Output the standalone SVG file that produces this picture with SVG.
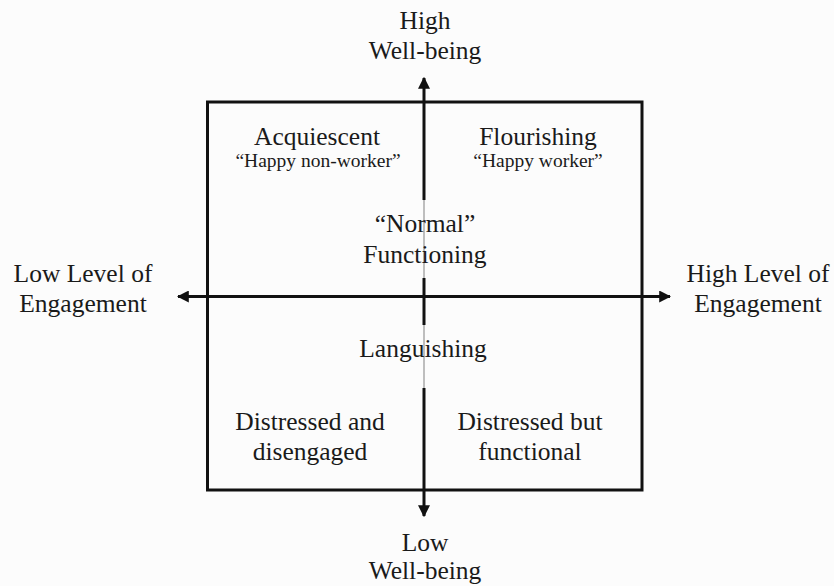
<svg xmlns="http://www.w3.org/2000/svg" width="834" height="586" viewBox="0 0 834 586">
<style>
text{font-family:"Liberation Serif","Times New Roman",serif;fill:#1a1a1a;text-anchor:middle}
.big{font-size:25.5px}
.small{font-size:19.5px}
.ax{stroke:#111;stroke-width:3;fill:none}
.thin{stroke:#aaa;stroke-width:1.5;fill:none}
</style>
<defs>
<marker id="ah" viewBox="0 0 10 10" refX="9" refY="5" markerWidth="4" markerHeight="4" markerUnits="strokeWidth" orient="auto">
<path d="M0,0 L10,5 L0,10 z" fill="#111"/>
</marker>
</defs>
<rect width="834" height="586" fill="#fcfcfc"/>
<g id="frame"><rect x="207.5" y="102" width="434.5" height="388" fill="none" stroke="#111" stroke-width="3"/></g>
<g id="connectors">
<line class="ax" x1="424" y1="200" x2="424" y2="78" marker-end="url(#ah)"/>
<line class="thin" x1="424" y1="200" x2="424" y2="278"/>
<line class="ax" x1="424" y1="278" x2="424" y2="325"/>
<line class="thin" x1="424" y1="325" x2="424" y2="388"/>
<line class="ax" x1="424" y1="388" x2="424" y2="516" marker-end="url(#ah)"/>
<line class="ax" x1="424" y1="296.5" x2="178" y2="296.5" marker-end="url(#ah)"/>
<line class="ax" x1="424" y1="296.5" x2="670" y2="296.5" marker-end="url(#ah)"/>
</g>
<g id="high"><text class="big" x="425" y="29">High</text><text class="big" x="425" y="59">Well-being</text></g>
<g id="low"><text class="big" x="425" y="551">Low</text><text class="big" x="425" y="579">Well-being</text></g>
<g id="lowEng"><text class="big" x="83" y="282">Low Level of</text><text class="big" x="83" y="312">Engagement</text></g>
<g id="highEng"><text class="big" x="758" y="282">High Level of</text><text class="big" x="758" y="312">Engagement</text></g>
<g id="acq"><text class="big" x="317" y="145">Acquiescent</text><text class="small" x="318" y="167">“Happy non-worker”</text></g>
<g id="flo"><text class="big" x="538" y="145">Flourishing</text><text class="small" x="538" y="167">“Happy worker”</text></g>
<g id="normal"><text class="big" x="425" y="232">“Normal”</text><text class="big" x="425" y="263">Functioning</text></g>
<g id="lang"><text class="big" x="423" y="357">Languishing</text></g>
<g id="dd"><text class="big" x="310" y="430">Distressed and</text><text class="big" x="310" y="460">disengaged</text></g>
<g id="df"><text class="big" x="530" y="430">Distressed but</text><text class="big" x="530" y="460">functional</text></g>
</svg>
